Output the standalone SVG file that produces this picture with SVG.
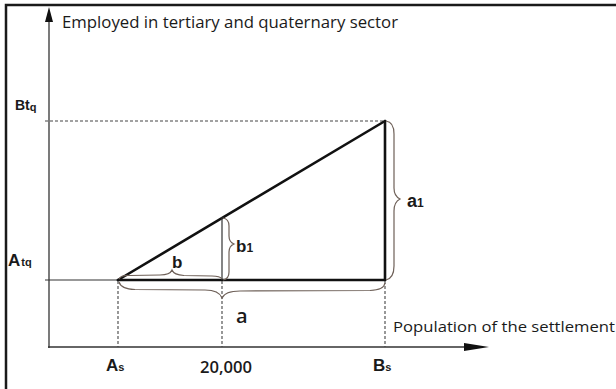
<svg xmlns="http://www.w3.org/2000/svg" width="616" height="389" viewBox="0 0 616 389">
<style>
.frame{fill:none;stroke:#1a1a1a;stroke-width:2.5}
.axis{stroke:#333;stroke-width:1.3;fill:none}
.thick{stroke:#111;stroke-width:2.6;fill:none;stroke-linecap:round}
.thin{stroke:#333;stroke-width:1.2;fill:none}
.dash{stroke:#444;stroke-width:1.1;fill:none;stroke-dasharray:3 2}
.brace{stroke:#6e6058;stroke-width:1.2;fill:none}
.lbl{font-family:"Liberation Sans",Arial,sans-serif;fill:#1a1a1a}
.cal{font-family:"Open Sans","Liberation Sans",sans-serif;fill:#1a1a1a}
.head{fill:#111}
</style>
<rect x="0" y="0" width="616" height="389" fill="#ffffff"/>
<rect class="frame" x="6" y="5" width="620" height="400"/>
<g id="axes">
<line class="axis" x1="49" y1="20" x2="49" y2="348"/>
<polygon class="head" points="49,7 45,22 53,22"/>
<line class="axis" x1="48" y1="347" x2="470" y2="347"/>
<polygon class="head" points="489,347 464,343 464,351"/>
</g>
<g id="connectors">
<line class="dash" x1="45" y1="121" x2="385" y2="121"/>
<line class="thin" x1="45" y1="280" x2="118" y2="280"/>
<line class="thick" x1="118" y1="280" x2="385" y2="121"/>
<line class="thick" x1="118" y1="280" x2="385" y2="280"/>
<line class="thick" x1="385" y1="121" x2="385" y2="280"/>
<line class="thin" x1="222" y1="217" x2="222" y2="280"/>
<line class="dash" x1="118" y1="281" x2="118" y2="347"/>
<line class="dash" x1="222" y1="281" x2="222" y2="347"/>
<line class="dash" x1="385" y1="281" x2="385" y2="347"/>
</g>
<g id="braces">
<path class="brace" d="M119,279 Q121,275 130,275.5 L160,275 Q170,275 172,270 Q174,275 184,275.5 L212,276 Q220,276 222,279"/>
<path class="brace" d="M119,282 Q121,289 135,289.5 L205,290 Q219,290 222,298 Q225,291 240,291 L370,290.5 Q384,290 385,283"/>
<path class="brace" d="M223,218 Q229,219 229,226 L229,236 Q229,242 234,244 Q229,246 229,252 L229,272 Q229,279 223,280"/>
<path class="brace" d="M386,121 Q394,122 394,134 L394,188 Q394,196 400,199 Q394,202 394,211 L394,266 Q394,278 386,280"/>
</g>
<g id="title-y">
<text class="cal" x="62" y="28" font-size="16" textLength="336" lengthAdjust="spacingAndGlyphs">Employed in tertiary and quaternary sector</text>
</g>
<g id="title-x">
<text class="cal" x="393" y="332" font-size="15" textLength="222" lengthAdjust="spacingAndGlyphs">Population of the settlement</text>
</g>
<g id="label-btq">
<text class="lbl" x="15" y="110" font-size="14" font-weight="bold">Bt<tspan font-size="11" dy="1">q</tspan></text>
</g>
<g id="label-atq">
<text class="lbl" x="8" y="266" font-size="17" font-weight="bold">A<tspan font-size="11" dx="1">tq</tspan></text>
</g>
<g id="label-as">
<text class="lbl" x="106" y="371" font-size="17" font-weight="bold">A<tspan font-size="11">s</tspan></text>
</g>
<g id="label-20000">
<text class="cal" x="200" y="373" font-size="16" font-weight="600" textLength="52" lengthAdjust="spacingAndGlyphs">20,000</text>
</g>
<g id="label-bs">
<text class="lbl" x="373" y="371" font-size="17" font-weight="bold">B<tspan font-size="11">s</tspan></text>
</g>
<g id="label-a">
<text class="cal" x="236" y="323" font-size="20" font-weight="600">a</text>
</g>
<g id="label-a1">
<text class="lbl" x="407" y="207" font-size="18" font-weight="bold">a<tspan font-size="12">1</tspan></text>
</g>
<g id="label-b">
<text class="lbl" x="172" y="268" font-size="17" font-weight="bold">b</text>
</g>
<g id="label-b1">
<text class="lbl" x="236" y="252" font-size="17" font-weight="bold">b<tspan font-size="12">1</tspan></text>
</g>
</svg>
